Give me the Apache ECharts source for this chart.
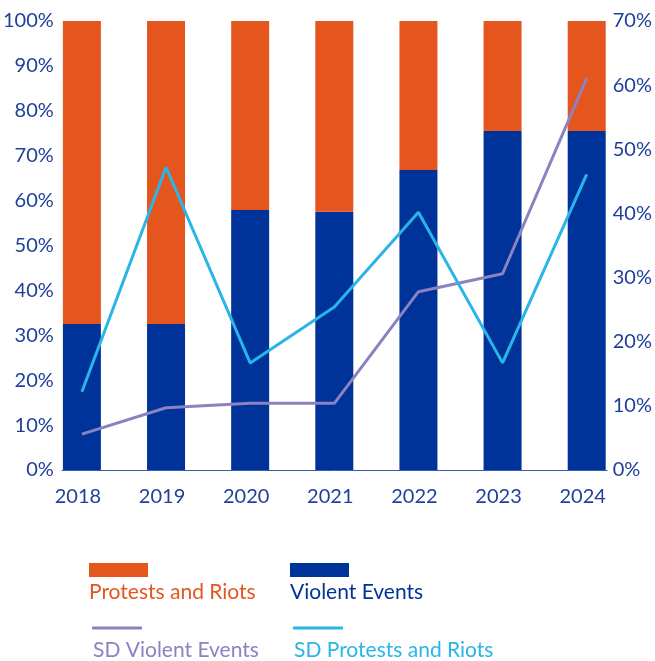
<!DOCTYPE html>
<html>
<head>
<meta charset="utf-8">
<script src="https://cdn.jsdelivr.net/npm/echarts@6/dist/echarts.min.js"></script>
<style>
  html, body { margin: 0; padding: 0; background: #fff; }
  #chart { width: 655px; height: 661px; }
</style>
</head>
<body>
<div id="chart"></div>
<script>
// Yearly share of event types (left axis, %) and their standard deviations (right axis, %)
const years = ['2018', '2019', '2020', '2021', '2022', '2023', '2024'];
const violentShare = [32.5, 32.5, 57.9, 57.5, 66.8, 75.5, 75.5];
const protestShare = [67.5, 67.5, 42.1, 42.5, 33.2, 24.5, 24.5];
const sdViolent = [5.6, 9.7, 10.4, 10.4, 27.8, 30.6, 61.1];
const sdProtests = [12.2, 47.2, 16.7, 25.4, 40.2, 16.7, 46.1];

const FONT = 'Lato';
const AXIS_TEXT = '#1F3F9A';
const ORANGE = '#E5561F';
const NAVY = '#00339A';
const PURPLE = '#8B82C0';
const SKY = '#2AB5E8';

const chart = echarts.init(document.getElementById('chart'), null, { renderer: 'canvas' });

// Each legend entry is drawn as an icon row with its label underneath
function iconLegend(name, left, top, w, h, icon) {
  return {
    data: [{ name: name, icon: icon }],
    left: left, top: top, padding: 0,
    itemWidth: w, itemHeight: h,
    selectedMode: false,
    formatter: function () { return ''; }
  };
}
function textLegend(name, left, top, color) {
  return {
    data: [name],
    left: left, top: top, padding: 0,
    itemWidth: 0, itemHeight: 0,
    selectedMode: false,
    textStyle: { color: color, fontFamily: FONT, fontSize: 21 }
  };
}

const option = {
  backgroundColor: '#fff',
  animation: false,
  textStyle: { fontFamily: FONT },
  grid: [
    { left: 39, right: 25, top: 21, bottom: 191, containLabel: false },
    { left: 62, right: 48, top: 21, bottom: 191, containLabel: false }
  ],
  legend: [
    iconLegend('Protests and Riots', 89, 563, 59, 14, 'rect'),
    iconLegend('Violent Events', 290, 563, 59, 14, 'rect'),
    textLegend('Protests and Riots', 84, 582, ORANGE),
    textLegend('Violent Events', 285, 582, NAVY),
    iconLegend('SD Violent Events', 92, 626.5, 50, 3, 'roundRect'),
    iconLegend('SD Protests and Riots', 293, 626.5, 50, 3, 'roundRect'),
    textLegend('SD Violent Events', 87, 640, PURPLE),
    textLegend('SD Protests and Riots', 288, 640, SKY)
  ],
  xAxis: [
    {
      type: 'category',
      gridIndex: 0,
      data: years,
      axisLine: { show: false },
      axisTick: { show: false },
      axisLabel: {
        color: AXIS_TEXT, fontFamily: FONT, fontSize: 20, margin: 17,
        padding: [0, 8, 0, 0]
      }
    },
    {
      // baseline spanning the outer bar edges
      type: 'category',
      gridIndex: 1,
      data: [''],
      axisLine: { show: true, onZero: false, lineStyle: { color: '#3A5BB0', width: 1 } },
      axisTick: { show: false },
      axisLabel: { show: false }
    }
  ],
  yAxis: [
    {
      type: 'value',
      gridIndex: 0,
      position: 'left',
      min: 0, max: 100, interval: 10,
      offset: -23,
      axisLine: { show: false },
      axisTick: { show: false },
      splitLine: { show: false },
      axisLabel: {
        formatter: '{value}%', color: AXIS_TEXT, fontFamily: FONT, fontSize: 20, margin: 9
      }
    },
    {
      type: 'value',
      gridIndex: 0,
      position: 'right',
      min: 0, max: 70, interval: 10,
      offset: -23,
      axisLine: { show: false },
      axisTick: { show: false },
      splitLine: { show: false },
      axisLabel: {
        formatter: '{value}%', color: AXIS_TEXT, fontFamily: FONT, fontSize: 20, margin: 7
      }
    },
    {
      type: 'value',
      gridIndex: 1,
      min: 0, max: 1,
      show: false
    }
  ],
  series: [
    {
      name: 'Violent Events',
      type: 'bar',
      stack: 'share',
      xAxisIndex: 0, yAxisIndex: 0,
      barWidth: 38,
      itemStyle: { color: NAVY },
      data: violentShare
    },
    {
      name: 'Protests and Riots',
      type: 'bar',
      stack: 'share',
      xAxisIndex: 0, yAxisIndex: 0,
      barWidth: 38,
      itemStyle: { color: ORANGE },
      data: protestShare
    },
    {
      name: 'SD Violent Events',
      type: 'line',
      xAxisIndex: 0, yAxisIndex: 1,
      showSymbol: false,
      z: 3,
      itemStyle: { color: PURPLE },
      lineStyle: { color: PURPLE, width: 3 },
      data: sdViolent
    },
    {
      name: 'SD Protests and Riots',
      type: 'line',
      xAxisIndex: 0, yAxisIndex: 1,
      showSymbol: false,
      z: 3,
      itemStyle: { color: SKY },
      lineStyle: { color: SKY, width: 3 },
      data: sdProtests
    }
  ]
};

chart.setOption(option);
</script>
</body>
</html>
